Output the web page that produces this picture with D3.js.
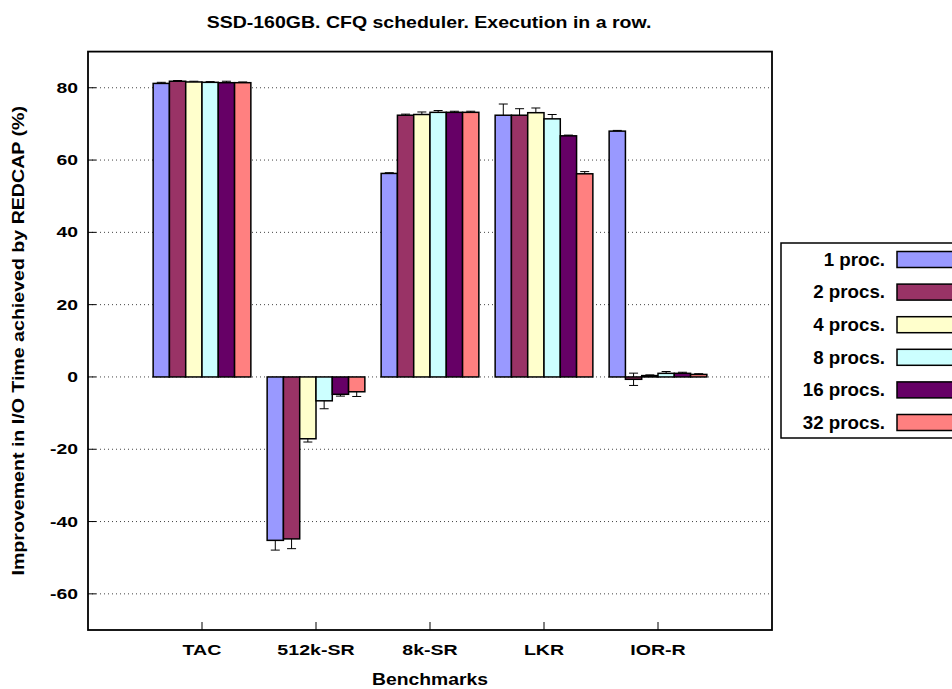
<!DOCTYPE html>
<html>
<head>
<meta charset="utf-8">
<script src="https://cdn.jsdelivr.net/npm/d3@7"></script>
<style>
  body { margin: 0; background: #fff; }
  svg { display: block; font-family: "Liberation Sans", Arial, Helvetica, sans-serif; font-weight: bold; }
</style>
</head>
<body>
<svg id="chart" width="952" height="689"></svg>
<script>
// Benchmarks on the x axis
const benchmarks = ["TAC", "512k-SR", "8k-SR", "LKR", "IOR-R"];
// Process counts (one bar per series in each cluster)
const seriesNames = ["1 proc.", "2 procs.", "4 procs.", "8 procs.", "16 procs.", "32 procs."];
const seriesColors = ["#9999ff", "#993366", "#ffffcc", "#ccffff", "#660066", "#ff8080"];

// Improvement (%) per series, in benchmark order
const proc1  = [81.2, -45.2, 56.3, 72.4, 68.0];
const proc2  = [81.8, -44.8, 72.4, 72.4, -0.65];
const proc4  = [81.6, -17.1, 72.6, 73.1, 0.37];
const proc8  = [81.5, -6.6, 73.2, 71.4, 1.0];
const proc16 = [81.4, -4.8, 73.2, 66.7, 1.0];
const proc32 = [81.4, -4.1, 73.2, 56.2, 0.7];

// Error bar half-widths per series
const err1  = [0.3, 2.7, 0.2, 3.1, 0.2];
const err2  = [0.2, 2.7, 0.3, 1.8, 1.7];
const err4  = [0.2, 0.9, 0.7, 1.3, 0.2];
const err8  = [0.2, 2.2, 0.5, 1.2, 0.5];
const err16 = [0.4, 0.5, 0.3, 0.2, 0.3];
const err32 = [0.2, 1.3, 0.3, 0.6, 0.2];

const yTicks = [-60, -40, -20, 0, 20, 40, 60, 80];

const values = [proc1, proc2, proc4, proc8, proc16, proc32];
const errors = [err1, err2, err4, err8, err16, err32];

const svg = d3.select("#chart");
const margin = { left: 88, right: 772, top: 51.6, bottom: 630 };

const x = d3.scaleLinear().domain([-1, 5]).range([margin.left, margin.right]);
const y = d3.scaleLinear().domain([-70, 90]).range([margin.bottom, margin.top]);

const nSeries = seriesNames.length;
const slot = 1 / (nSeries + 1);   // one bar-width gap between clusters

// Horizontally widened text, anchored at (tx, ty)
function wideText(parent, tx, ty, str, size, sx, anchor, rot) {
  const g = parent.append("g")
    .attr("transform", `translate(${tx},${ty})` + (rot ? ` rotate(${rot})` : "") + ` scale(${sx},1)`);
  return g.append("text").attr("text-anchor", anchor).attr("font-size", size).text(str);
}

// Grid lines
svg.append("g").selectAll("line").data(yTicks).join("line")
  .attr("x1", margin.left).attr("x2", margin.right)
  .attr("y1", d => y(d)).attr("y2", d => y(d))
  .attr("stroke", "#444").attr("stroke-width", 1)
  .attr("stroke-dasharray", "1,3");

const bars = [];
values.forEach((vals, j) => {
  vals.forEach((v, i) => {
    bars.push({ i, j, v, e: errors[j][i] });
  });
});

// Error bars (beneath the bars, so only the part outside a bar shows)
const errG = svg.append("g").attr("stroke", "#000").attr("stroke-width", 1);
bars.forEach(d => {
  const cx = x(d.i + (d.j - nSeries / 2 + 0.5) * slot);
  errG.append("line").attr("x1", cx).attr("x2", cx)
    .attr("y1", y(d.v - d.e)).attr("y2", y(d.v + d.e));
  [d.v - d.e, d.v + d.e].forEach(t => {
    errG.append("line").attr("x1", cx - 4.5).attr("x2", cx + 4.5)
      .attr("y1", y(t)).attr("y2", y(t));
  });
});

// Bars
svg.append("g").selectAll("rect").data(bars).join("rect")
  .attr("x", d => x(d.i + (d.j - nSeries / 2) * slot))
  .attr("width", d => x(slot) - x(0))
  .attr("y", d => y(Math.max(0, d.v)))
  .attr("height", d => Math.abs(y(d.v) - y(0)))
  .attr("fill", d => seriesColors[d.j])
  .attr("stroke", "#000").attr("stroke-width", 1.5);

// Frame
svg.append("rect")
  .attr("x", margin.left).attr("y", margin.top)
  .attr("width", margin.right - margin.left).attr("height", margin.bottom - margin.top)
  .attr("fill", "none").attr("stroke", "#000").attr("stroke-width", 1.8);

// Ticks (inward, left and bottom only)
const tickG = svg.append("g").attr("stroke", "#000").attr("stroke-width", 1);
yTicks.forEach(t => {
  tickG.append("line").attr("x1", margin.left).attr("x2", margin.left + 8)
    .attr("y1", y(t)).attr("y2", y(t));
});
benchmarks.forEach((b, i) => {
  tickG.append("line").attr("x1", x(i)).attr("x2", x(i))
    .attr("y1", margin.bottom).attr("y2", margin.bottom - 8);
});

// Y tick labels
const yLab = svg.append("g");
yTicks.forEach(t => {
  wideText(yLab, 78, y(t), t, 14, 1.38, "end").attr("dy", "0.36em");
});

// X tick labels
const xLab = svg.append("g");
benchmarks.forEach((b, i) => {
  wideText(xLab, x(i), 655, b, 14, 1.4, "middle");
});

// Axis titles
wideText(svg, (margin.left + margin.right) / 2, 685, "Benchmarks", 16, 1.21, "middle");
wideText(svg, 24, (margin.top + margin.bottom) / 2,
  "Improvement in I/O Time achieved by REDCAP (%)", 16, 1.225, "middle", -90);

// Title
wideText(svg, 429, 28, "SSD-160GB. CFQ scheduler. Execution in a row.", 16, 1.22, "middle");

// Legend
const legG = svg.append("g");
legG.append("rect").attr("x", 781).attr("y", 243).attr("width", 200).attr("height", 195)
  .attr("fill", "#fff").attr("stroke", "#000").attr("stroke-width", 1.5);
const rowY = d3.scaleLinear().domain([0, nSeries - 1]).range([259.5, 422.5]);
seriesNames.forEach((name, j) => {
  wideText(legG, 885, rowY(j), name, 17.5, 1.07, "end").attr("dy", "0.36em");
  legG.append("rect").attr("x", 897).attr("y", rowY(j) - 8).attr("width", 70).attr("height", 16)
    .attr("fill", seriesColors[j]).attr("stroke", "#000").attr("stroke-width", 1.5);
});
</script>
</body>
</html>
